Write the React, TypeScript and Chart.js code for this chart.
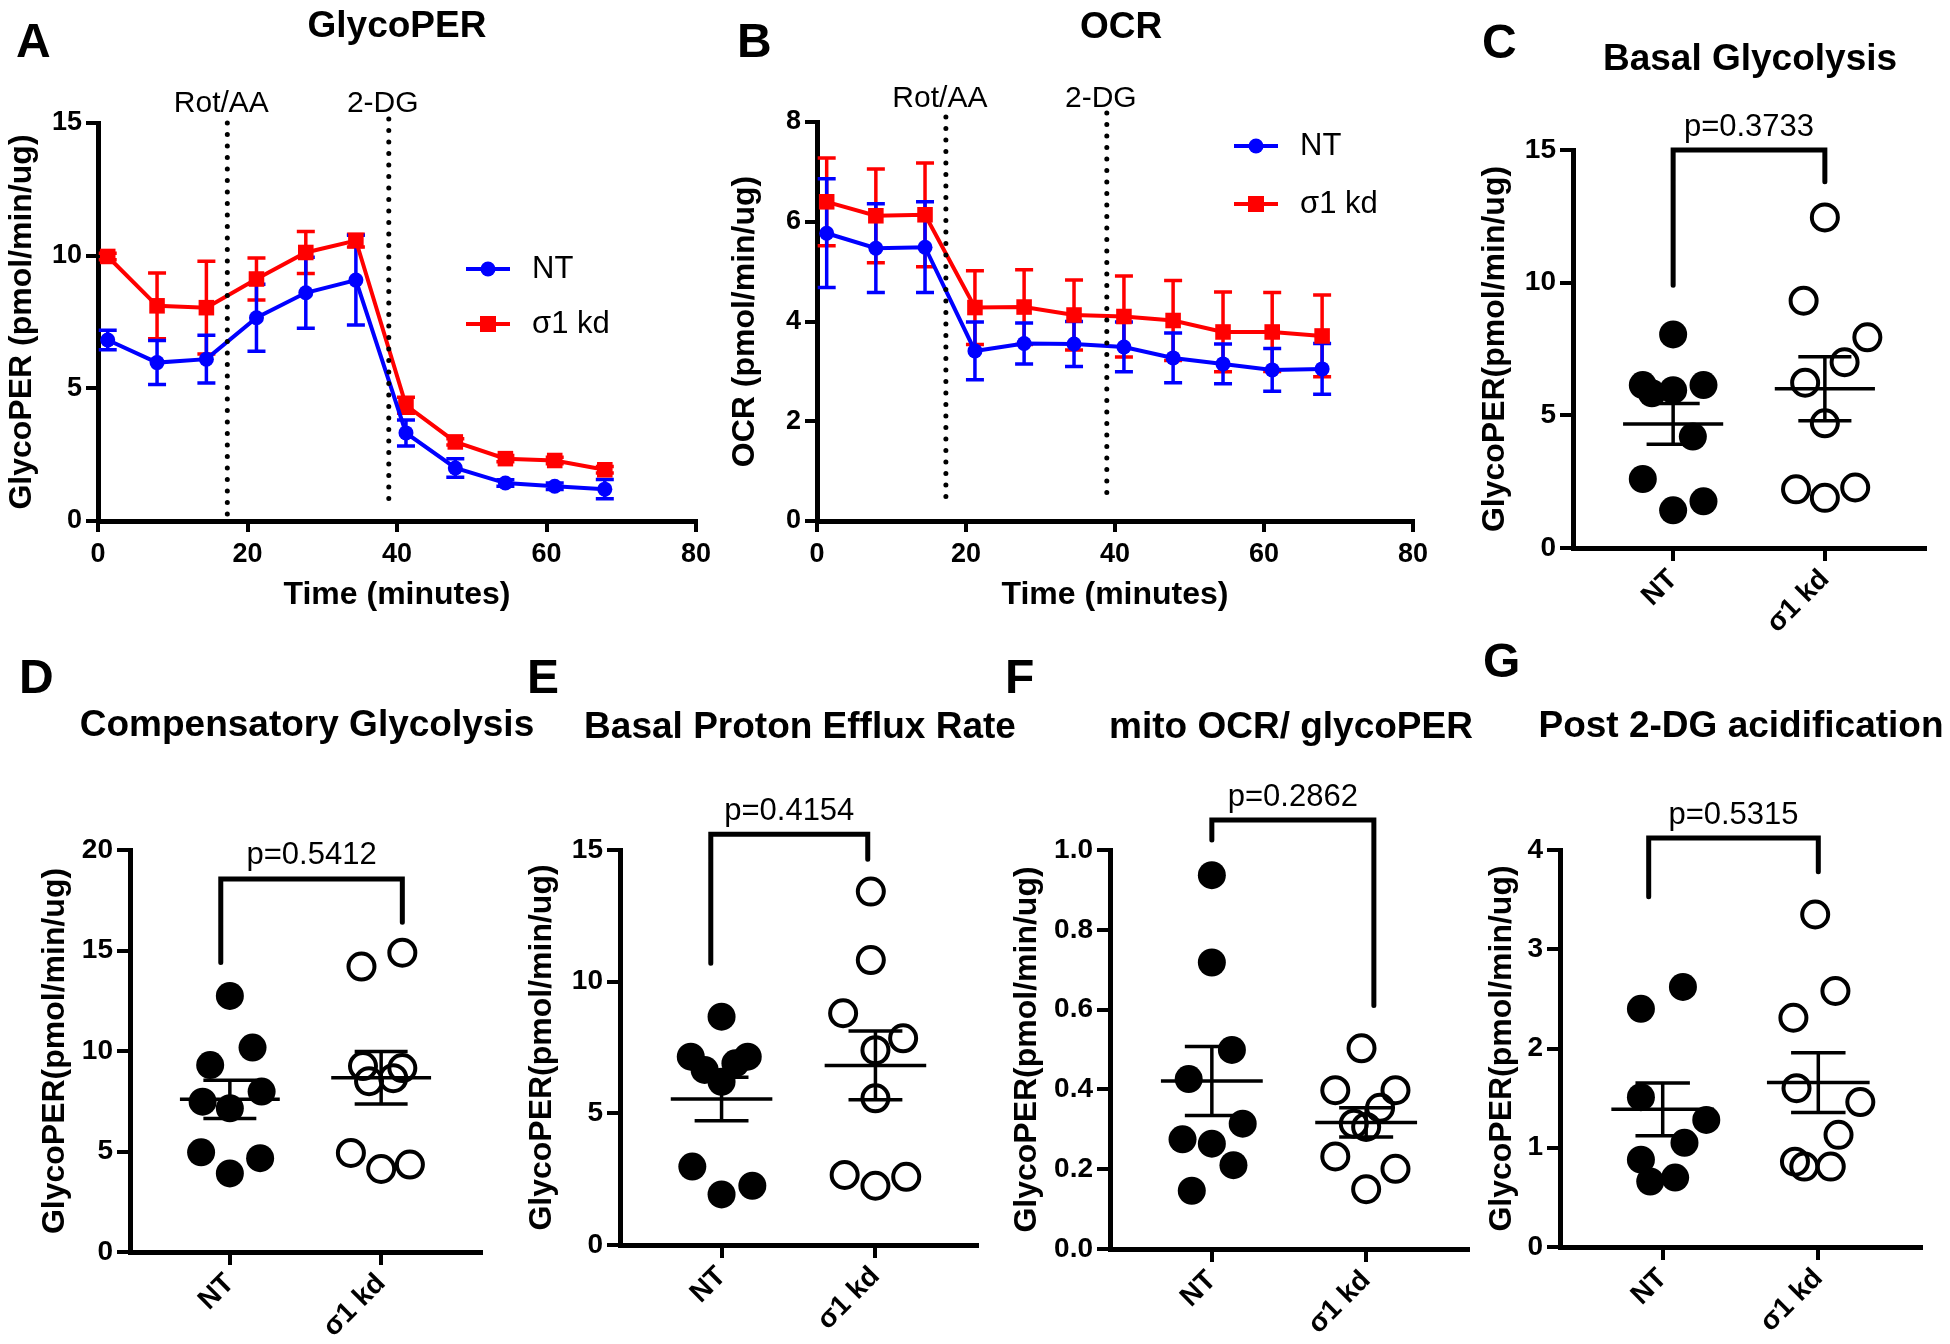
import React, { useEffect, useRef } from "react";
import { Chart, registerables } from "chart.js";

Chart.register(...registerables);

const FONT_FAMILY = "'Liberation Sans', Arial, Helvetica, sans-serif";
Chart.defaults.font.family = FONT_FAMILY;

const BLUE = "#0000ff";
const RED = "#ff0000";
const BLACK = "#000000";

// ---------------- Panels A & B: kinetic traces ----------------
const timeMinutes = [1.3, 7.9, 14.5, 21.2, 27.8, 34.5, 41.2, 47.8, 54.5, 61.1, 67.8];

const glycoPerNT = [6.82, 5.97, 6.1, 7.66, 8.6, 9.08, 3.32, 2.0, 1.43, 1.31, 1.2];
const glycoPerNTSem = [0.37, 0.83, 0.9, 1.26, 1.34, 1.69, 0.49, 0.35, 0.12, 0.12, 0.36];
const glycoPerKD = [9.97, 8.11, 8.04, 9.12, 10.12, 10.57, 4.36, 2.98, 2.35, 2.28, 1.93];
const glycoPerKDSem = [0.12, 1.24, 1.75, 0.79, 0.79, 0.24, 0.3, 0.12, 0.12, 0.12, 0.12];

const ocrNT = [5.77, 5.47, 5.49, 3.41, 3.56, 3.55, 3.49, 3.27, 3.15, 3.03, 3.05];
const ocrNTSem = [1.09, 0.89, 0.91, 0.58, 0.41, 0.45, 0.5, 0.5, 0.4, 0.43, 0.51];
const ocrKD = [6.4, 6.12, 6.14, 4.28, 4.29, 4.13, 4.1, 4.02, 3.79, 3.79, 3.71];
const ocrKDSem = [0.88, 0.94, 1.04, 0.74, 0.75, 0.7, 0.81, 0.8, 0.8, 0.79, 0.82];

const injectionNames = ["Rot/AA", "2-DG"];
const injectionTimes = [17.3, 38.9];
const glycoInjectionSpans = [[0, 15], [0.64, 15.15]];
const ocrInjectionSpans = [[0.38, 8.1], [0.5, 8.18]];

const seriesNames = ["NT", "σ1 kd"];
const groupLabels = ["NT", "σ1 kd"];

// ---------------- Panel C: Basal Glycolysis ----------------
const basalGlycoNT = [8.05, 6.14, 5.95, 6.14, 5.83, 4.2, 2.6, 1.76, 1.42];
const basalGlycoNTPos = [0, -0.2, 0, 0.2, -0.14, 0.13, -0.2, 0.2, 0];
const basalGlycoKD = [12.46, 9.32, 7.94, 7.0, 6.23, 4.7, 2.21, 1.89, 2.28];
const basalGlycoKDPos = [1, 0.86, 1.28, 1.13, 0.87, 1, 0.81, 1, 1.2];
const basalGlycoBracket = [15.0, 9.9, 13.8];
const basalGlycoBracketX = [0, 1];

// ---------------- Panel D: Compensatory Glycolysis ----------------
const compGlycoNT = [12.74, 10.17, 9.3, 7.98, 7.48, 7.15, 4.96, 4.67, 3.91];
const compGlycoNTPos = [0, 0.15, -0.13, 0.21, -0.18, 0, -0.19, 0.2, 0];
const compGlycoKD = [14.89, 14.2, 9.25, 9.15, 8.5, 8.65, 4.93, 4.13, 4.35];
const compGlycoKDPos = [1.14, 0.87, 0.88, 1.14, 0.92, 1.08, 0.8, 1, 1.19];
const compGlycoBracket = [18.56, 14.4, 16.4];
const compGlycoBracketX = [-0.06, 1.14];

// ---------------- Panel E: Basal Proton Efflux Rate ----------------
const basalPerNT = [8.67, 7.15, 7.15, 6.9, 6.65, 6.2, 2.98, 2.25, 1.92];
const basalPerNTPos = [0, -0.2, 0.17, 0.09, -0.11, 0, -0.19, 0.2, 0];
const basalPerKD = [13.42, 10.82, 8.8, 7.85, 7.4, 5.57, 2.66, 2.25, 2.59];
const basalPerKDPos = [0.97, 0.97, 0.79, 1.18, 1, 1, 0.8, 1, 1.2];
const basalPerBracket = [15.6, 10.7, 14.65];
const basalPerBracketX = [-0.07, 0.95];

// ---------------- Panel F: mito OCR / glycoPER ----------------
const mitoRatioNT = [0.937, 0.718, 0.499, 0.426, 0.314, 0.275, 0.264, 0.21, 0.146];
const mitoRatioNTPos = [0, 0, 0.13, -0.15, 0.2, -0.19, 0, 0.14, -0.13];
const mitoRatioKD = [0.503, 0.398, 0.398, 0.354, 0.314, 0.306, 0.232, 0.201, 0.15];
const mitoRatioKDPos = [0.97, 0.8, 1.19, 1.09, 0.92, 1, 0.8, 1.19, 1];
const mitoRatioBracket = [1.075, 1.025, 0.61];
const mitoRatioBracketX = [0, 1.05];

// ---------------- Panel G: Post 2-DG acidification ----------------
const post2dgNT = [2.62, 2.4, 1.51, 1.28, 1.05, 0.88, 0.66, 0.7];
const post2dgNTPos = [0.13, -0.14, -0.14, 0.28, 0.14, -0.14, -0.08, 0.08];
const post2dgKD = [3.35, 2.58, 2.31, 1.6, 1.46, 1.13, 0.86, 0.81, 0.81];
const post2dgKDPos = [0.98, 1.11, 0.84, 0.86, 1.27, 1.13, 0.85, 0.91, 1.08];
const post2dgBracket = [4.12, 3.53, 3.78];
const post2dgBracketX = [-0.09, 1.0];

const pValues = ["p=0.3733", "p=0.5412", "p=0.4154", "p=0.2862", "p=0.5315"];

// ---------------- helpers ----------------
function font(size: number, bold = false) {
  return `${bold ? "bold " : ""}${size}px ${FONT_FAMILY}`;
}

function drawText(ctx: any, s: string, x: number, y: number, f: string, align: CanvasTextAlign = "center") {
  ctx.save();
  ctx.font = f;
  ctx.fillStyle = BLACK;
  ctx.textAlign = align;
  ctx.textBaseline = "middle";
  ctx.fillText(s, x, y);
  ctx.restore();
}

function meanSem(arr: number[]) {
  const n = arr.length;
  const m = arr.reduce((a, b) => a + b, 0) / n;
  const v = arr.reduce((a, b) => a + (b - m) * (b - m), 0) / (n - 1);
  return [m, Math.sqrt(v / n)];
}

const axisGrid = (tickLength: number) => ({
  display: true,
  drawOnChartArea: false,
  drawTicks: true,
  tickLength,
  tickWidth: 4,
  tickColor: BLACK,
  color: BLACK,
  lineWidth: 4,
});
const axisBorder = { display: true, color: BLACK, width: 5 };

// ---------------- line panels ----------------
function makeLineChart(canvas: HTMLCanvasElement, c: any) {
  const ox = c.box.x;
  const oy = c.box.y;
  const pts = (v: number[]) => v.map((y, i) => ({ x: timeMinutes[i], y }));

  const decor = {
    id: "decorLine",
    beforeDatasetsDraw(chart: any) {
      const { ctx } = chart;
      const xs = chart.scales.x;
      const ys = chart.scales.y;
      const bars = (vals: number[], sems: number[], color: string) => {
        ctx.save();
        ctx.strokeStyle = color;
        ctx.lineWidth = 3.5;
        vals.forEach((v, i) => {
          const px = xs.getPixelForValue(timeMinutes[i]);
          const top = ys.getPixelForValue(v + sems[i]);
          const bot = ys.getPixelForValue(v - sems[i]);
          ctx.beginPath();
          ctx.moveTo(px, top);
          ctx.lineTo(px, bot);
          ctx.moveTo(px - 9, top);
          ctx.lineTo(px + 9, top);
          ctx.moveTo(px - 9, bot);
          ctx.lineTo(px + 9, bot);
          ctx.stroke();
        });
        ctx.restore();
      };
      bars(c.kd, c.kdSem, RED);
      bars(c.nt, c.ntSem, BLUE);
    },
    afterDatasetsDraw(chart: any) {
      const { ctx } = chart;
      const xs = chart.scales.x;
      const ys = chart.scales.y;
      ctx.save();
      ctx.strokeStyle = BLACK;
      ctx.lineWidth = 5;
      ctx.lineCap = "round";
      ctx.setLineDash([0, 11.5]);
      injectionTimes.forEach((t, i) => {
        const px = xs.getPixelForValue(t);
        ctx.beginPath();
        ctx.moveTo(px, ys.getPixelForValue(c.spans[i][1]));
        ctx.lineTo(px, ys.getPixelForValue(c.spans[i][0]));
        ctx.stroke();
      });
      ctx.restore();
    },
    afterDraw(chart: any) {
      const { ctx } = chart;
      const xs = chart.scales.x;
      const area = chart.chartArea;
      injectionTimes.forEach((t, i) => {
        drawText(ctx, injectionNames[i], xs.getPixelForValue(t) - 6, area.top - c.labelRise, font(30));
      });
      drawText(ctx, c.letter, c.letterPos[0] - ox, c.letterPos[1] - oy, font(48, true), "left");
      drawText(ctx, c.title, c.titlePos[0] - ox, c.titlePos[1] - oy, font(37, true));
      // legend
      const rows = [
        { name: seriesNames[0], color: BLUE, square: false },
        { name: seriesNames[1], color: RED, square: true },
      ];
      rows.forEach((r, i) => {
        const lx = c.legendX - ox;
        const ly = c.legendY[i] - oy;
        ctx.save();
        ctx.strokeStyle = r.color;
        ctx.fillStyle = r.color;
        ctx.lineWidth = 4;
        ctx.beginPath();
        ctx.moveTo(lx, ly);
        ctx.lineTo(lx + 44, ly);
        ctx.stroke();
        if (r.square) {
          ctx.fillRect(lx + 22 - 8, ly - 8, 16, 16);
        } else {
          ctx.beginPath();
          ctx.arc(lx + 22, ly, 7.5, 0, Math.PI * 2);
          ctx.fill();
        }
        ctx.restore();
        drawText(ctx, r.name, lx + 66, ly, font(31), "left");
      });
    },
  };

  return new Chart(canvas, {
    type: "line",
    data: {
      datasets: [
        {
          label: seriesNames[0],
          data: pts(c.nt),
          borderColor: BLUE,
          backgroundColor: BLUE,
          borderWidth: 4,
          pointStyle: "circle",
          pointRadius: 7.5,
          pointBackgroundColor: BLUE,
          pointBorderColor: BLUE,
          pointBorderWidth: 0,
          tension: 0,
          order: 0,
        },
        {
          label: seriesNames[1],
          data: pts(c.kd),
          borderColor: RED,
          backgroundColor: RED,
          borderWidth: 4,
          pointStyle: "rect",
          pointRadius: 11,
          pointBackgroundColor: RED,
          pointBorderColor: RED,
          pointBorderWidth: 0,
          tension: 0,
          order: 1,
        },
      ],
    },
    options: {
      animation: false,
      responsive: false,
      events: [],
      layout: {
        padding: { top: c.area.t - oy, right: ox + c.box.w - c.area.r, left: 0, bottom: 0 },
      },
      plugins: { legend: { display: false }, tooltip: { enabled: false }, title: { display: false } },
      scales: {
        x: {
          type: "linear",
          min: 0,
          max: 80,
          ticks: { stepSize: 20, color: BLACK, font: { size: 27, weight: "bold" }, padding: 6, maxRotation: 0 },
          grid: axisGrid(11),
          border: axisBorder,
          title: {
            display: true,
            text: "Time (minutes)",
            color: BLACK,
            font: { size: 32, weight: "bold" },
            padding: { top: 0, bottom: c.xTitlePad },
          },
          afterFit: (s: any) => {
            s.height = oy + c.box.h - c.area.b;
          },
        },
        y: {
          type: "linear",
          min: 0,
          max: c.yMax,
          ticks: { stepSize: c.yStep, color: BLACK, font: { size: 27, weight: "bold" }, padding: 4 },
          grid: axisGrid(12),
          border: axisBorder,
          title: {
            display: true,
            text: c.yTitle,
            color: BLACK,
            font: { size: 32, weight: "bold" },
            padding: { top: c.yTitlePad, bottom: 0 },
          },
          afterFit: (s: any) => {
            s.width = c.area.l - ox;
          },
        },
      },
    } as any,
    plugins: [decor],
  } as any);
}

// ---------------- dot plot panels ----------------
function makeDotChart(canvas: HTMLCanvasElement, c: any) {
  const ox = c.box.x;
  const oy = c.box.y;
  const ntPts = c.nt.map((y: number, i: number) => ({ x: c.ntPos[i], y }));
  const kdPts = c.kd.map((y: number, i: number) => ({ x: c.kdPos[i], y }));

  const decor = {
    id: "decorDot",
    beforeDatasetsDraw(chart: any) {
      const { ctx } = chart;
      const xs = chart.scales.x;
      const ys = chart.scales.y;
      ctx.save();
      ctx.strokeStyle = BLACK;
      ctx.lineWidth = 3.5;
      [c.nt, c.kd].forEach((vals: number[], g: number) => {
        const [m, s] = meanSem(vals);
        const seg = (x0: number, y0: number, x1: number, y1: number) => {
          ctx.beginPath();
          ctx.moveTo(xs.getPixelForValue(x0), ys.getPixelForValue(y0));
          ctx.lineTo(xs.getPixelForValue(x1), ys.getPixelForValue(y1));
          ctx.stroke();
        };
        seg(g - 0.33, m, g + 0.33, m);
        seg(g, m - s, g, m + s);
        seg(g - 0.175, m + s, g + 0.175, m + s);
        seg(g - 0.175, m - s, g + 0.175, m - s);
      });
      ctx.restore();
    },
    afterDraw(chart: any) {
      const { ctx } = chart;
      const xs = chart.scales.x;
      const ys = chart.scales.y;
      const [top, ntBot, kdBot] = c.bracket;
      const [bx0, bx1] = c.bracketX;
      const x0 = xs.getPixelForValue(bx0);
      const x1 = xs.getPixelForValue(bx1);
      const yt = ys.getPixelForValue(top);
      ctx.save();
      ctx.strokeStyle = BLACK;
      ctx.lineWidth = 5;
      ctx.lineCap = "round";
      ctx.lineJoin = "miter";
      ctx.beginPath();
      ctx.moveTo(x0, ys.getPixelForValue(ntBot));
      ctx.lineTo(x0, yt);
      ctx.lineTo(x1, yt);
      ctx.lineTo(x1, ys.getPixelForValue(kdBot));
      ctx.stroke();
      ctx.restore();
      drawText(ctx, c.p, (x0 + x1) / 2, yt - 23, font(31));
      drawText(ctx, c.letter, c.letterPos[0] - ox, c.letterPos[1] - oy, font(48, true), "left");
      drawText(ctx, c.title, c.titlePos[0] - ox, c.titlePos[1] - oy, font(37, true));
    },
  };

  return new Chart(canvas, {
    type: "scatter",
    data: {
      datasets: [
        {
          label: groupLabels[0],
          data: ntPts,
          pointRadius: 14,
          pointBackgroundColor: BLACK,
          pointBorderColor: BLACK,
          pointBorderWidth: 0,
          order: 0,
        },
        {
          label: groupLabels[1],
          data: kdPts,
          pointRadius: 13,
          pointBackgroundColor: "rgba(0,0,0,0)",
          pointBorderColor: BLACK,
          pointBorderWidth: 4,
          order: 1,
        },
      ],
    },
    options: {
      animation: false,
      responsive: false,
      events: [],
      layout: {
        padding: { top: c.area.t - oy, right: ox + c.box.w - c.area.r, left: 0, bottom: 0 },
      },
      plugins: { legend: { display: false }, tooltip: { enabled: false }, title: { display: false } },
      scales: {
        x: {
          type: "linear",
          min: -0.66,
          max: 1.66,
          afterBuildTicks: (s: any) => {
            s.ticks = [{ value: 0 }, { value: 1 }];
          },
          ticks: {
            callback: (v: any) => groupLabels[Math.round(Number(v))],
            color: BLACK,
            font: { size: 28, weight: "bold" },
            minRotation: 45,
            maxRotation: 45,
            autoSkip: false,
            padding: 2,
          },
          grid: axisGrid(13),
          border: axisBorder,
          afterFit: (s: any) => {
            s.height = oy + c.box.h - c.area.b;
          },
        },
        y: {
          type: "linear",
          min: 0,
          max: c.yMax,
          ticks: {
            stepSize: c.yStep,
            color: BLACK,
            font: { size: 28, weight: "bold" },
            padding: 4,
            callback: (v: any) => (c.decimals ? Number(v).toFixed(c.decimals) : String(v)),
          },
          grid: axisGrid(13),
          border: axisBorder,
          title: {
            display: true,
            text: "GlycoPER(pmol/min/ug)",
            color: BLACK,
            font: { size: 32, weight: "bold" },
            padding: { top: c.yTitlePad, bottom: 0 },
          },
          afterFit: (s: any) => {
            s.width = c.area.l - ox;
          },
        },
      },
    } as any,
    plugins: [decor],
  } as any);
}

// ---------------- panel configurations ----------------
const panelA = {
  box: { x: 0, y: 0, w: 720, h: 620 },
  area: { l: 98, t: 123, r: 696, b: 521 },
  yMax: 15,
  yStep: 5,
  letter: "A",
  letterPos: [16, 44],
  title: "GlycoPER",
  titlePos: [397, 27],
  yTitle: "GlycoPER (pmol/min/ug)",
  yTitlePad: 3,
  xTitlePad: 6,
  nt: glycoPerNT,
  ntSem: glycoPerNTSem,
  kd: glycoPerKD,
  kdSem: glycoPerKDSem,
  spans: glycoInjectionSpans,
  labelRise: 19,
  legendX: 466,
  legendY: [269, 324],
};

const panelB = {
  box: { x: 720, y: 0, w: 740, h: 620 },
  area: { l: 817, t: 122, r: 1413, b: 521 },
  yMax: 8,
  yStep: 2,
  letter: "B",
  letterPos: [737, 44],
  title: "OCR",
  titlePos: [1121, 28],
  yTitle: "OCR (pmol/min/ug)",
  yTitlePad: 6,
  xTitlePad: 6,
  nt: ocrNT,
  ntSem: ocrNTSem,
  kd: ocrKD,
  kdSem: ocrKDSem,
  spans: ocrInjectionSpans,
  labelRise: 23,
  legendX: 1234,
  legendY: [146, 204],
};

const panelC = {
  box: { x: 1440, y: 0, w: 510, h: 640 },
  area: { l: 1573, t: 150, r: 1925, b: 548 },
  yMax: 15,
  yStep: 5,
  decimals: 0,
  letter: "C",
  letterPos: [1482, 45],
  title: "Basal Glycolysis",
  titlePos: [1750, 60],
  yTitlePad: 36,
  nt: basalGlycoNT,
  ntPos: basalGlycoNTPos,
  kd: basalGlycoKD,
  kdPos: basalGlycoKDPos,
  bracket: basalGlycoBracket,
  bracketX: basalGlycoBracketX,
  p: pValues[0],
};

const panelD = {
  box: { x: 0, y: 620, w: 540, h: 720 },
  area: { l: 130, t: 850, r: 481, b: 1252 },
  yMax: 20,
  yStep: 5,
  decimals: 0,
  letter: "D",
  letterPos: [19, 680],
  title: "Compensatory Glycolysis",
  titlePos: [307, 726],
  yTitlePad: 36,
  nt: compGlycoNT,
  ntPos: compGlycoNTPos,
  kd: compGlycoKD,
  kdPos: compGlycoKDPos,
  bracket: compGlycoBracket,
  bracketX: compGlycoBracketX,
  p: pValues[1],
};

const panelE = {
  box: { x: 500, y: 620, w: 525, h: 720 },
  area: { l: 620, t: 850, r: 977, b: 1245 },
  yMax: 15,
  yStep: 5,
  decimals: 0,
  letter: "E",
  letterPos: [527, 680],
  title: "Basal Proton Efflux Rate",
  titlePos: [800, 728],
  yTitlePad: 23,
  nt: basalPerNT,
  ntPos: basalPerNTPos,
  kd: basalPerKD,
  kdPos: basalPerKDPos,
  bracket: basalPerBracket,
  bracketX: basalPerBracketX,
  p: pValues[2],
};

const panelF = {
  box: { x: 995, y: 620, w: 490, h: 720 },
  area: { l: 1110, t: 850, r: 1471, b: 1249 },
  yMax: 1.0,
  yStep: 0.2,
  decimals: 1,
  letter: "F",
  letterPos: [1005, 680],
  title: "mito OCR/ glycoPER",
  titlePos: [1291, 728],
  yTitlePad: 13,
  nt: mitoRatioNT,
  ntPos: mitoRatioNTPos,
  kd: mitoRatioKD,
  kdPos: mitoRatioKDPos,
  bracket: mitoRatioBracket,
  bracketX: mitoRatioBracketX,
  p: pValues[3],
};

const panelG = {
  box: { x: 1475, y: 620, w: 475, h: 720 },
  area: { l: 1560, t: 850, r: 1921, b: 1247 },
  yMax: 4,
  yStep: 1,
  decimals: 0,
  letter: "G",
  letterPos: [1483, 664],
  title: "Post 2-DG acidification",
  titlePos: [1741, 727],
  yTitlePad: 8,
  nt: post2dgNT,
  ntPos: post2dgNTPos,
  kd: post2dgKD,
  kdPos: post2dgKDPos,
  bracket: post2dgBracket,
  bracketX: post2dgBracketX,
  p: pValues[4],
};

function ChartCanvas({ cfg, kind }: { cfg: any; kind: "line" | "dot" }) {
  const ref = useRef<HTMLCanvasElement>(null);
  useEffect(() => {
    const canvas = ref.current;
    if (!canvas) return;
    const chart = kind === "line" ? makeLineChart(canvas, cfg) : makeDotChart(canvas, cfg);
    return () => chart.destroy();
  }, []);
  return (
    <canvas
      ref={ref}
      width={cfg.box.w}
      height={cfg.box.h}
      style={{
        position: "absolute",
        left: cfg.box.x,
        top: cfg.box.y,
        width: cfg.box.w,
        height: cfg.box.h,
      }}
    />
  );
}

export default function App() {
  return (
    <div
      style={{
        position: "absolute",
        left: 0,
        top: 0,
        width: 1950,
        height: 1344,
        background: "#ffffff",
        overflow: "hidden",
      }}
    >
      <ChartCanvas cfg={panelA} kind="line" />
      <ChartCanvas cfg={panelB} kind="line" />
      <ChartCanvas cfg={panelC} kind="dot" />
      <ChartCanvas cfg={panelD} kind="dot" />
      <ChartCanvas cfg={panelE} kind="dot" />
      <ChartCanvas cfg={panelF} kind="dot" />
      <ChartCanvas cfg={panelG} kind="dot" />
    </div>
  );
}
